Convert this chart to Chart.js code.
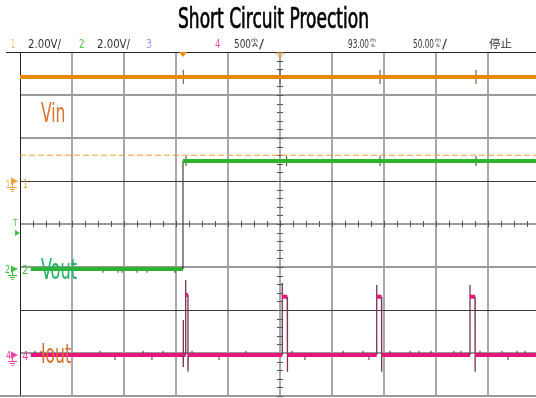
<!DOCTYPE html>
<html>
<head>
<meta charset="utf-8">
<script src="https://cdn.jsdelivr.net/npm/chart.js@4.4.1/dist/chart.umd.min.js"></script>
<style>
html, body { margin: 0; padding: 0; background: #fff; }
#wrap { position: relative; width: 536px; height: 398px; overflow: hidden; }
#scope { position: absolute; left: 0; top: 0; }
.t { position: absolute; white-space: nowrap; line-height: 1; font-family: "DejaVu Sans Condensed", "DejaVu Sans", sans-serif; transform-origin: 0 0; }
</style>
</head>
<body>
<div id="wrap"><canvas id="scope" width="536" height="398"></canvas></div>
<script>
// time axis in ms (50 ms/div, trigger at centre), values in V or A
const tStart = -250, tEnd = 246.15;

const vinTime = [-250, 246.15];
const vinVolts = [4.84, 4.84];
const trigTime = [-250, 246.15];
const trigVolts = [1.2, 1.2];

const voutTime = [-239.7, -93.3, -93.3, 246.15];
const voutVolts = [0, 0, 5.02, 5.02];

const ioutTime = [-239.7, -93.1, -93.0, -93.0, -92.9,
    -90.7, -90.7, -90.7, -88.5, -88.5, -88.2,
    2.2, 2.2, 2.2, 7.0, 7.0, 7.3,
    93.0, 93.0, 93.0, 97.6, 97.6, 97.9,
    182.7, 182.7, 182.7, 187.5, 187.5, 187.8,
    246.15];
const ioutAmps = [0, 0, 0.407, -0.14, 0,
    0, 0.872, 0.698, 0.698, -0.194, 0,
    0, 0.837, 0.678, 0.678, -0.194, 0,
    0, 0.814, 0.678, 0.678, -0.194, 0,
    0, 0.814, 0.678, 0.678, -0.194, 0,
    0];

// small glitches seen on the traces
const ioutNoiseTime = [-235.6, -229.8, -173.1, -158.7, -131.7, -123.1, -112.5, -84.6, -58.7, -32.7,
    11.5, 24.0, 60.6, 79.8, 85.6, 105.8, 125.0, 133.7, 145.2, 167.3, 174.0, 192.3, 213.5, 219.2, 227.9, 235.6];
const ioutNoiseAmps = [0.02, 0.02, 0.02, -0.03, 0.02, -0.03, 0.02, 0.02, -0.03, 0.02,
    0.02, -0.03, 0.02, 0.02, -0.03, 0.02, 0.02, 0.02, 0.02, 0.02, 0.02, 0.02, 0.02, -0.03, 0.02, 0.02];
const voutNoiseTime = [-170.2, -155.8, -151.9, -137.5, -127.9, -101.0];
const voutNoiseVolts = [-0.08, -0.08, -0.08, -0.08, -0.08, -0.08];

const vinMarks = [-93.0, 0, 96.2, 188.5];
const voutMarks = [-90.4, 6.4, 96.2, 188.5];

// channel settings: units per division and ground position in divisions
const ch1 = { perDiv: 2, ground: 1.0 };
const ch2 = { perDiv: 2, ground: -1.047 };
const ch4 = { perDiv: 0.5, ground: -3.047 };

function toDiv(ch, v) { return ch.ground + v / ch.perDiv; }
function pts(ch, xs, ys) { return xs.map((x, i) => ({ x: x, y: toDiv(ch, ys[i]) })); }

const thinSeg = function (c) { return Math.abs(c.p1.parsed.x - c.p0.parsed.x) < 0.5; };

const extras = {
    id: 'extras',
    beforeDatasetsDraw(chart) {
        const c = chart.ctx, xs = chart.scales.x, ys = chart.scales.y;
        const cx = xs.getPixelForValue(0), cy = ys.getPixelForValue(0);
        const top = ys.getPixelForValue(4), bot = ys.getPixelForValue(-4);
        c.save();
        // centre graticule ticks
        c.strokeStyle = '#555';
        c.lineWidth = 1;
        c.beginPath();
        for (let v = -4; v <= 4.001; v += 0.2) {
            const y = Math.round(ys.getPixelForValue(v)) + 0.5;
            c.moveTo(cx - 3, y); c.lineTo(cx + 3, y);
        }
        for (let t = -250; t <= tEnd; t += 12.5) {
            const x = Math.round(xs.getPixelForValue(t)) + 0.5;
            c.moveTo(x, cy - 3); c.lineTo(x, cy + 3);
        }
        c.stroke();
        // frame pieces
        c.strokeStyle = '#222';
        c.beginPath();
        c.moveTo(6, Math.round(top) + 0.5); c.lineTo(536, Math.round(top) + 0.5);
        const lx = Math.round(xs.getPixelForValue(tStart)) + 0.5;
        c.moveTo(lx, top); c.lineTo(lx, bot);
        c.stroke();
        c.strokeStyle = '#999';
        c.lineWidth = 2;
        c.beginPath();
        c.moveTo(0, Math.round(bot)); c.lineTo(lx, Math.round(bot));
        c.stroke();
        // trigger position markers on top edge
        const tx = xs.getPixelForValue(voutTime[1]);
        c.fillStyle = '#f08c10';
        c.beginPath();
        c.moveTo(tx - 4, top); c.lineTo(tx + 4, top); c.lineTo(tx, top + 5); c.closePath();
        c.fill();
        c.strokeStyle = '#f0a040';
        c.lineWidth = 1;
        c.beginPath();
        c.moveTo(cx - 4, top + 1); c.lineTo(cx + 4, top + 1); c.lineTo(cx, top + 6); c.closePath();
        c.stroke();
        // channel ground arrows
        const arrows = [[ch1, '#f0a030'], [ch2, '#40c040'], [ch4, '#f040a0']];
        arrows.forEach(function (a) {
            const y = Math.round(ys.getPixelForValue(a[0].ground));
            c.fillStyle = a[1];
            c.strokeStyle = a[1];
            c.beginPath();
            c.moveTo(11, y - 3.5); c.lineTo(18, y); c.lineTo(11, y + 3.5); c.closePath();
            c.fill();
            c.beginPath();
            c.moveTo(12.5, y); c.lineTo(12.5, y + 6);
            c.moveTo(8, y + 6.5); c.lineTo(17, y + 6.5);
            c.moveTo(10, y + 8.5); c.lineTo(15, y + 8.5);
            c.moveTo(11.5, y + 10.5); c.lineTo(13.5, y + 10.5);
            c.stroke();
        });
        // trigger level arrow
        c.fillStyle = '#40c040';
        c.beginPath();
        c.moveTo(15, 230); c.lineTo(20, 233); c.lineTo(15, 236); c.closePath();
        c.fill();
        c.restore();
    }
};

const noSize = function (s) { if (s.isHorizontal()) s.height = 0; else s.width = 0; };

const chart = new Chart(document.getElementById('scope').getContext('2d'), {
    type: 'line',
    data: {
        datasets: [
            {
                data: pts(ch1, trigTime, trigVolts),
                borderColor: '#f29a30', borderWidth: 1, borderDash: [6, 3]
            },
            {
                data: pts(ch1, vinTime, vinVolts),
                borderColor: '#e8890c', borderWidth: 4
            },
            {
                data: pts(ch2, voutTime, voutVolts),
                borderColor: '#2db32d', borderWidth: 4,
                segment: {
                    borderWidth: c => thinSeg(c) ? 1.2 : 4,
                    borderColor: c => thinSeg(c) ? '#3a4a30' : '#2db32d'
                }
            },
            {
                data: pts(ch4, ioutTime, ioutAmps),
                borderColor: '#e6167c', borderWidth: 4,
                segment: {
                    borderWidth: c => thinSeg(c) ? 1.3 : 4,
                    borderColor: c => thinSeg(c) ? '#7a3456' : '#e6167c'
                }
            },
            {
                type: 'scatter',
                data: pts(ch4, ioutNoiseTime, ioutNoiseAmps),
                pointStyle: 'line', rotation: 90, pointRadius: 2.5,
                borderColor: '#5a2a40', borderWidth: 1
            },
            {
                type: 'scatter',
                data: pts(ch2, voutNoiseTime, voutNoiseVolts),
                pointStyle: 'line', rotation: 90, pointRadius: 2,
                borderColor: '#2a3a2a', borderWidth: 1
            },
            {
                type: 'scatter',
                data: vinMarks.map(t => ({ x: t, y: toDiv(ch1, vinVolts[0]) })),
                pointStyle: 'line', rotation: 90, pointRadius: 7,
                borderColor: '#6b4a1c', borderWidth: 1
            },
            {
                type: 'scatter',
                data: voutMarks.map(t => ({ x: t, y: toDiv(ch2, voutVolts[3]) })),
                pointStyle: 'line', rotation: 90, pointRadius: 5,
                borderColor: '#2f4a2a', borderWidth: 1
            }
        ]
    },
    options: {
        responsive: false,
        animation: false,
        layout: { autoPadding: false, padding: { left: 20, top: 52, right: 0, bottom: 2 } },
        elements: { point: { radius: 0 }, line: { tension: 0 } },
        plugins: { legend: { display: false }, tooltip: { enabled: false } },
        scales: {
            x: {
                type: 'linear', min: tStart, max: tEnd, offset: false,
                border: { display: false },
                afterFit: noSize,
                ticks: { display: false, stepSize: 50, includeBounds: false },
                grid: {
                    drawTicks: false,
                    color: c => c.tick.value === tStart ? 'rgba(0,0,0,0)' : '#a8a8a8',
                    lineWidth: 2
                }
            },
            y: {
                type: 'linear', min: -4, max: 4, offset: false,
                border: { display: false },
                afterFit: noSize,
                ticks: { display: false, stepSize: 1 },
                grid: {
                    drawTicks: false,
                    color: c => (c.tick.value === 1 || c.tick.value === -2) ? '#3a3a3a' : (c.tick.value === 4 ? 'rgba(0,0,0,0)' : '#9a9a9a'),
                    lineWidth: c => (c.tick.value === 1 || c.tick.value === -2) ? 1 : 2
                }
            }
        }
    },
    plugins: [extras]
});

// text overlays
const wrap = document.getElementById('wrap');
function label(txt, x, base, w, size, color, family) {
    const s = document.createElement('span');
    s.className = 't';
    s.textContent = txt;
    s.style.fontSize = size + 'px';
    s.style.color = color;
    if (family) s.style.fontFamily = family;
    s.style.left = x + 'px';
    s.style.top = (base - 0.846 * size) + 'px';
    wrap.appendChild(s);
    if (w) {
        const r = s.getBoundingClientRect().width;
        s.style.transform = 'scaleX(' + (w / r) + ')';
    }
    return s;
}

const title = label('Short Circuit Proection', 178, 28.5, 191, 28, '#000');
title.style.webkitTextStroke = '0.7px #000';

const hdr = '#333';
label('1', 11, 47.5, 4, 13, '#f8b050');
label('2.00V/', 28, 47.5, 33, 13, hdr);
label('2', 78.5, 47.5, 5.5, 13, '#49c649');
label('2.00V/', 97, 47.5, 33, 13, hdr);
label('3', 146, 47.5, 6, 13, '#8a9af0');
label('4', 214.5, 47.5, 5.5, 13, '#f050a8');
label('500', 234, 47.5, 17, 13, hdr);
label('m', 251, 42, 7, 6, hdr);
label('A', 252, 47.5, 6, 6, hdr);
label('/', 259, 47.5, 5, 13, hdr);
label('93.00', 348, 47.5, 21, 13, hdr);
label('m', 369.5, 42, 6, 6, hdr);
label('s', 370.5, 47.5, 4, 6, hdr);
label('50.00', 413, 47.5, 21, 13, hdr);
label('m', 434.5, 42, 6, 6, hdr);
label('s', 435.5, 47.5, 4, 6, hdr);
label('/', 442, 47.5, 5, 13, hdr);
label('停止', 489, 47.5, 23, 11, hdr, '"Noto Sans CJK SC", sans-serif');

label('1', 6, 188, 4, 11, '#f0a030');
label('1', 23, 188, 4.5, 12, '#f0a030');
label('T', 13, 226.5, 4.5, 9, '#40c040');
label('2', 5, 273.5, 5, 11, '#40c040');
label('2', 22, 274, 6.5, 12, '#40c040');
label('4', 6, 359.5, 5, 11, '#f040a0');
label('4', 22, 360, 6.5, 12, '#f040a0');

label('Vin', 40.5, 122, 24.5, 27, '#d8722a');
label('Vout', 41, 280, 36, 28, '#22b566');
label('Iout', 41, 362.5, 30, 26, '#d87030');
</script>
</body>
</html>
